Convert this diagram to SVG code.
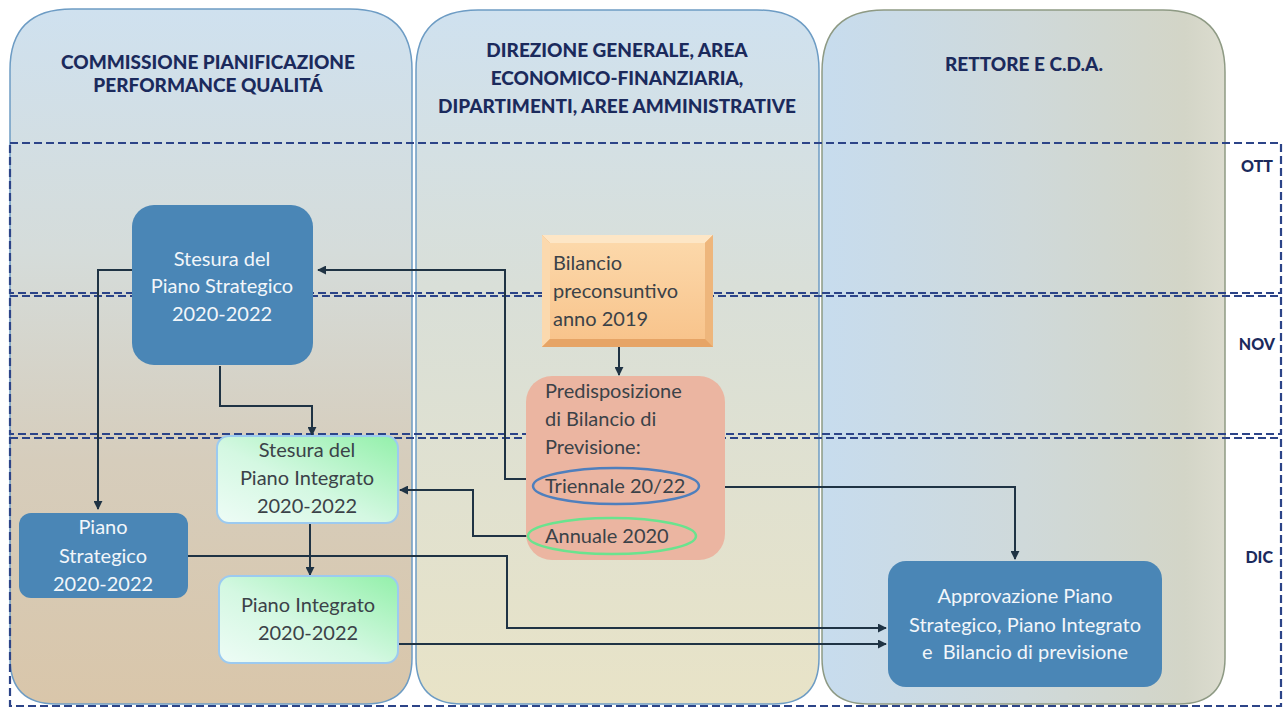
<svg xmlns="http://www.w3.org/2000/svg" width="1286" height="708" viewBox="0 0 1286 708">
  <defs>
    <linearGradient id="g-lane1" x1="0" y1="0" x2="0" y2="1">
      <stop offset="0" stop-color="#cfe1ef"/>
      <stop offset="0.35" stop-color="#d5dcda"/>
      <stop offset="0.65" stop-color="#d6cdbc"/>
      <stop offset="1" stop-color="#d9c6aa"/>
    </linearGradient>
    <linearGradient id="g-lane2" x1="0" y1="0" x2="0" y2="1">
      <stop offset="0" stop-color="#cfe1ef"/>
      <stop offset="0.4" stop-color="#d9dfd8"/>
      <stop offset="1" stop-color="#e8e3c7"/>
    </linearGradient>
    <linearGradient id="g-lane3" x1="0" y1="0" x2="1" y2="0">
      <stop offset="0" stop-color="#c7dcee"/>
      <stop offset="0.5" stop-color="#cfd9da"/>
      <stop offset="0.9" stop-color="#d3d5c7"/>
      <stop offset="1" stop-color="#dcdccf"/>
    </linearGradient>
    <linearGradient id="g-green" x1="1" y1="0" x2="0" y2="1">
      <stop offset="0" stop-color="#93f0aa"/>
      <stop offset="0.55" stop-color="#d4f8e2"/>
      <stop offset="1" stop-color="#eefcf6"/>
    </linearGradient>
    <linearGradient id="g-orange" x1="0" y1="0" x2="0" y2="1">
      <stop offset="0" stop-color="#fcd8aa"/>
      <stop offset="1" stop-color="#f8c48c"/>
    </linearGradient>
    <marker id="arr" viewBox="0 0 10 10" refX="9" refY="5" markerWidth="4.5" markerHeight="4.5" orient="auto" markerUnits="strokeWidth">
      <path d="M0,0 L10,5 L0,10 z" fill="#1f3344"/>
    </marker>
    <style>
      .lane1 { fill: url(#g-lane1); stroke: #6d9cc4; stroke-width: 1.5; }
      .lane2 { fill: url(#g-lane2); stroke: #6d9cc4; stroke-width: 1.5; }
      .lane3 { fill: url(#g-lane3); stroke: #8e9a84; stroke-width: 1.5; }
      .band { fill: none; stroke: #2c4488; stroke-width: 2.2; stroke-dasharray: 8 4; }
      .hdr { font-family: Lato, "Liberation Sans", sans-serif; font-weight: 900; font-size: 19px; fill: #1b2a5c; text-anchor: middle; }
      .mon { font-family: Lato, "Liberation Sans", sans-serif; font-weight: 900; font-size: 16px; fill: #1b2a5c; text-anchor: end; }
      .blue { fill: #4a86b6; }
      .wt { font-family: Lato, "Liberation Sans", sans-serif; font-size: 20px; fill: #f2f6fa; text-anchor: middle; }
      .dk { font-family: Lato, "Liberation Sans", sans-serif; font-size: 20px; fill: #3b4248; }
      .dkc { font-family: Lato, "Liberation Sans", sans-serif; font-size: 20px; fill: #3b4248; text-anchor: middle; }
      .green { fill: url(#g-green); stroke: #9ccaf0; stroke-width: 2; }
      .conn { fill: none; stroke: #1f3344; stroke-width: 2; }
    </style>
  </defs>

  <g id="lanes">
    <g id="lane-commissione">
      <path class="lane1" d="M10,70 Q10,9 72,9 H350 Q412,9 412,70 V658 Q412,704 366,704 H56 Q10,704 10,658 Z"/>
      <text class="hdr" x="208" y="69">COMMISSIONE PIANIFICAZIONE</text>
      <text class="hdr" x="208" y="92">PERFORMANCE QUALITÁ</text>
    </g>
    <g id="lane-direzione">
      <path class="lane2" d="M416,70 Q416,10 478,10 H757 Q819,10 819,70 V658 Q819,704 773,704 H462 Q416,704 416,658 Z"/>
      <text class="hdr" x="617" y="57">DIREZIONE GENERALE, AREA</text>
      <text class="hdr" x="617" y="85">ECONOMICO-FINANZIARIA,</text>
      <text class="hdr" x="617" y="113">DIPARTIMENTI, AREE AMMINISTRATIVE</text>
    </g>
    <g id="lane-rettore">
      <path class="lane3" d="M822,72 Q822,10 884,10 H1163 Q1225,10 1225,72 V658 Q1225,704 1179,704 H868 Q822,704 822,658 Z"/>
      <text class="hdr" x="1024" y="71">RETTORE E C.D.A.</text>
    </g>
  </g>

  <g id="bands">
    <g id="band-ott">
      <rect class="band" x="10" y="143" width="1271" height="150"/>
      <text class="mon" x="1273" y="172">OTT</text>
    </g>
    <g id="band-nov">
      <rect class="band" x="10" y="296" width="1271" height="138"/>
      <text class="mon" x="1275" y="350">NOV</text>
    </g>
    <g id="band-dic">
      <rect class="band" x="10" y="438" width="1271" height="268"/>
      <text class="mon" x="1273" y="563">DIC</text>
    </g>
  </g>

  <g id="connectors">
    <path class="conn" d="M530,479 H505 V270 H318" marker-end="url(#arr)"/>
    <path class="conn" d="M132,270 H98 V509" marker-end="url(#arr)"/>
    <path class="conn" d="M220,366 V406 H312 V435" marker-end="url(#arr)"/>
    <path class="conn" d="M619,347 V375" marker-end="url(#arr)"/>
    <path class="conn" d="M527,536 H473 V490 H400" marker-end="url(#arr)"/>
    <path class="conn" d="M310,524 V575" marker-end="url(#arr)"/>
    <path class="conn" d="M188,556 H507 V628 H886" marker-end="url(#arr)"/>
    <path class="conn" d="M399,644 H886" marker-end="url(#arr)"/>
    <path class="conn" d="M725,487 H1015 V559" marker-end="url(#arr)"/>
  </g>

  <g id="node-stesura-ps">
    <rect class="blue" x="132" y="205" width="181" height="160" rx="22"/>
    <text class="wt" x="222" y="266">Stesura del</text>
    <text class="wt" x="222" y="293">Piano Strategico</text>
    <text class="wt" x="222" y="321">2020-2022</text>
  </g>

  <g id="node-bilancio-pre">
    <rect x="542" y="235" width="171" height="112" fill="#eeae6e"/>
    <polygon points="542,235 713,235 705,243 550,243" fill="#fde6c6"/>
    <polygon points="542,235 550,243 550,339 542,347" fill="#fbd9ae"/>
    <polygon points="713,235 713,347 705,339 705,243" fill="#eeb67c"/>
    <polygon points="542,347 550,339 705,339 713,347" fill="#e6a466"/>
    <rect x="550" y="243" width="155" height="96" fill="url(#g-orange)"/>
    <text class="dk" x="553" y="270">Bilancio</text>
    <text class="dk" x="553" y="298">preconsuntivo</text>
    <text class="dk" x="553" y="326">anno 2019</text>
  </g>

  <g id="node-predisposizione">
    <rect x="526" y="376" width="199" height="184" rx="26" fill="#ebb5a1"/>
    <text class="dk" x="545" y="398">Predisposizione</text>
    <text class="dk" x="545" y="426">di Bilancio di</text>
    <text class="dk" x="545" y="454">Previsione:</text>
    <ellipse cx="616" cy="486" rx="83" ry="18" fill="none" stroke="#4e7fbd" stroke-width="2.5"/>
    <text class="dk" x="545" y="493">Triennale 20/22</text>
    <ellipse cx="612" cy="536" rx="84" ry="18" fill="none" stroke="#6ae38e" stroke-width="2.5"/>
    <text class="dk" x="545" y="543">Annuale 2020</text>
  </g>

  <g id="node-stesura-pi">
    <rect class="green" x="217" y="436" width="181" height="87" rx="12"/>
    <text class="dkc" x="307" y="457">Stesura del</text>
    <text class="dkc" x="307" y="485">Piano Integrato</text>
    <text class="dkc" x="307" y="513">2020-2022</text>
  </g>

  <g id="node-piano-strategico">
    <rect class="blue" x="19" y="513" width="169" height="85" rx="12"/>
    <text class="wt" x="103" y="534">Piano</text>
    <text class="wt" x="103" y="563">Strategico</text>
    <text class="wt" x="103" y="591">2020-2022</text>
  </g>

  <g id="node-piano-integrato">
    <rect class="green" x="219" y="576" width="179" height="87" rx="12"/>
    <text class="dkc" x="308" y="612">Piano Integrato</text>
    <text class="dkc" x="308" y="640">2020-2022</text>
  </g>

  <g id="node-approvazione">
    <rect class="blue" x="888" y="561" width="274" height="126" rx="18"/>
    <text class="wt" x="1025" y="603">Approvazione  Piano</text>
    <text class="wt" x="1025" y="632">Strategico, Piano Integrato</text>
    <text class="wt" x="1025" y="659" xml:space="preserve">e  Bilancio di previsione</text>
  </g>
</svg>
